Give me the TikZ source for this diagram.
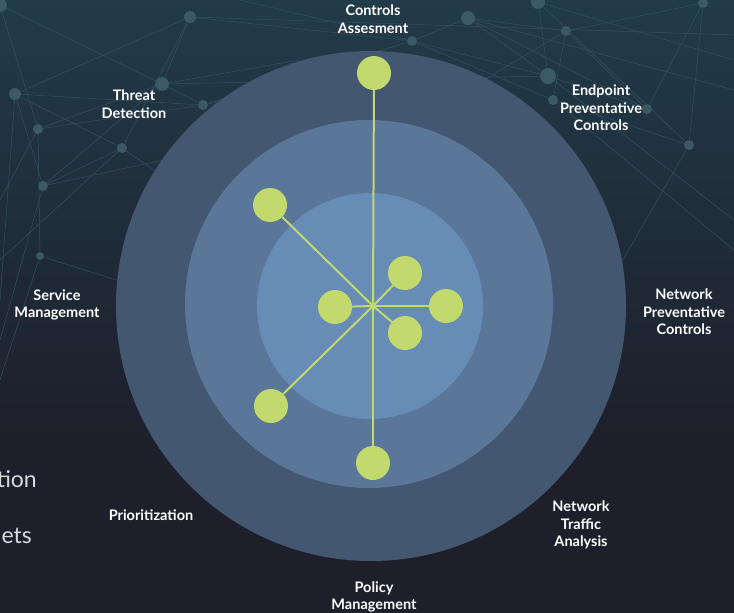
\documentclass[tikz,border=0pt]{standalone}
\usepackage{fontspec}
\setmainfont{Lato}
\definecolor{bgtop}{HTML}{213B49}
\definecolor{bgbot}{HTML}{1E1F2B}
\definecolor{ringout}{HTML}{435870}
\definecolor{ringmid}{HTML}{5A7699}
\definecolor{ringin}{HTML}{678CB6}
\definecolor{lime}{HTML}{C2D96E}
\definecolor{netline}{HTML}{33505F}
\definecolor{netdot}{HTML}{3C5966}
\begin{document}
\begin{tikzpicture}[
	x=1pt,y=-1pt,
	line cap=round,
	line join=round,
	leaf/.style={circle,fill=lime,minimum size=34pt,inner sep=0pt},
	tag/.style={text=white,font=\fontsize{14.5}{17.5}\selectfont\bfseries,align=center},
	ghost/.style={text=black!15,font=\fontsize{23}{28}\selectfont,anchor=base east,inner sep=0pt},
	hubdot/.style={circle,fill=netdot,inner sep=0pt}
	]
	\useasboundingbox (0,0) rectangle (734,613);
	\fill[bgbot] (0,0) rectangle (734,613);
	\shade[top color=bgtop,bottom color=bgbot] (0,0) rectangle (734,440);
	% background network
	\begin{scope}
		\clip (0,0) rectangle (734,613);
		\foreach \n/\x/\y/\r in {n1/190/17/6,n2/162/84/7,n3/15/94/6,n4/38/129/5,n5/203/105/5,n6/122/148/5,n7/43/186/5,n8/40/256/4,n9/412/41/5,n10/468/18/7,n11/538/2/7,n12/566/31/5,n13/548/76/8,n14/553/100/5,n15/647/109/5,n16/689/145/5,n17/703/3/5,n18/0/5/7}
			\node[hubdot,minimum size=2*\r pt] (\n) at (\x,\y) {};
		\foreach \a/\b in {n18/n2,n1/n3,n1/n2,n1/n6,n1/n9,n2/n4,n2/n5,n2/n7,n3/n6,n3/n5,n4/n5,n4/n8,n6/n7,n9/n10,n9/n13,n10/n12,n10/n13,n10/n15,n11/n13,n11/n16,n12/n14,n13/n15,n14/n16,n15/n17,n16/n17,n17/n12,n18/n4,n3/n7,n5/n9,n2/n13,n12/n15,n9/n14}
			\draw[netline,line width=0.5pt] (\a) -- (\b);
		\foreach \a/\x/\y in {n1/734/35,n2/300/60,n6/270/250,n7/210/150,n5/330/80,n9/240/0,n3/0/300,n7/0/340,n8/180/300,n13/734/220,n14/734/250,n16/600/300,n11/734/60,n10/734/90,n4/0/200,n8/0/380,n6/0/260,n12/400/130}
			\draw[netline,line width=0.5pt] (\a) -- (\x,\y);
	\end{scope}
	% rings
	\coordinate (hub) at (373,306);
	\fill[ringout] (371,306) circle[radius=255pt];
	\fill[ringmid] (369,304) circle[radius=184pt];
	\fill[ringin] (370,306) circle[radius=113pt];
	% leaves
	\node[leaf] (top) at (374,73) {};
	\node[leaf] (ul) at (270,205) {};
	\node[leaf] (iu) at (405,273) {};
	\node[leaf] (il) at (335,307) {};
	\node[leaf] (ir) at (446,306) {};
	\node[leaf] (id) at (405,333) {};
	\node[leaf] (ll) at (271,406) {};
	\node[leaf] (bot) at (373,463) {};
	\begin{scope}[lime,line width=2pt]
		\foreach \l in {top,ul,iu,il,ir,id,ll,bot}
			\draw (hub) -- (\l);
	\end{scope}
	% labels
	\node[tag] (ca) at (373,19) {Controls\\Assesment};
	\node[tag] (td) at (134,104) {Threat\\Detection};
	\node[tag] (ep) at (601,108) {Endpoint\\Preventative\\Controls};
	\node[tag] (np) at (684,312) {Network\\Preventative\\Controls};
	\node[tag] (sm) at (57,305) {Service\\Management};
	\node[tag] (pr) at (151,515) {Prioritization};
	\node[tag] (nt) at (581,525) {Network\\Traffic\\Analysis};
	\node[tag] (pm) at (374,597) {Policy\\Management};
	\node[ghost] (g1) at (37,487) {tion};
	\node[ghost] (g2) at (32,543) {ets};
\end{tikzpicture}
\end{document}
